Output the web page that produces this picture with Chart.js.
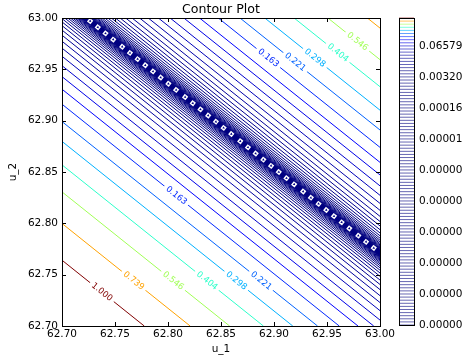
<!DOCTYPE html>
<html>
<head>
<meta charset="utf-8">
<script src="https://cdn.jsdelivr.net/npm/chart.js@4.4.1/dist/chart.umd.min.js"></script>
<style>
  html, body { margin: 0; padding: 0; background: #fff; }
  #wrap { position: relative; width: 468px; height: 360px; }
  #plot { position: absolute; left: 0; top: 0; }
  #cbar { position: absolute; left: 380px; top: 0; }
</style>
</head>
<body>
<div id="wrap">
  <canvas id="plot" width="468" height="360"></canvas>
  <canvas id="cbar" width="88" height="360"></canvas>
</div>
<script>
// contour levels, lowest first (100 of them, one per line on the colour bar)
const levels = [
  1.00e-13, 1.35e-13, 1.83e-13, 2.48e-13, 3.35e-13, 4.53e-13, 6.14e-13, 8.30e-13, 1.12e-12, 1.52e-12,
  2.06e-12, 2.78e-12, 3.76e-12, 5.09e-12, 6.89e-12, 9.33e-12, 1.26e-11, 1.71e-11, 2.31e-11, 3.13e-11,
  4.23e-11, 5.72e-11, 7.74e-11, 1.05e-10, 1.42e-10, 1.92e-10, 2.60e-10, 3.51e-10, 4.75e-10, 6.43e-10,
  8.70e-10, 1.18e-9, 1.59e-9, 2.15e-9, 2.92e-9, 3.94e-9, 5.34e-9, 7.22e-9, 9.77e-9, 1.32e-8,
  1.79e-8, 2.42e-8, 3.27e-8, 4.43e-8, 5.99e-8, 8.11e-8, 1.10e-7, 1.48e-7, 2.01e-7, 2.72e-7,
  3.68e-7, 4.98e-7, 6.73e-7, 9.11e-7, 1.23e-6, 1.67e-6, 2.26e-6, 3.05e-6, 4.13e-6, 5.59e-6,
  7.56e-6, 1.02e-5, 1.39e-5, 1.87e-5, 2.54e-5, 3.43e-5, 4.64e-5, 6.28e-5, 8.50e-5, 1.15e-4,
  1.56e-4, 2.10e-4, 2.85e-4, 3.85e-4, 5.21e-4, 7.06e-4, 9.55e-4, 1.29e-3, 1.75e-3, 2.36e-3,
  3.20e-3, 4.33e-3, 5.86e-3, 7.93e-3, 0.0107, 0.0145, 0.0196, 0.0266, 0.0359, 0.0486,
  0.06579, 0.0890, 0.120, 0.163, 0.221, 0.298, 0.404, 0.546, 0.739, 1.000
];

// the surface is a trough: zero along a straight valley, rising with the square of the offset
const valleyTop = 62.7229;    // u_1 of the valley floor at u_2 = 63.00
const valleyBottom = 63.0861; // u_1 of the valley floor at u_2 = 62.70
const spread = 0.3085;        // u_1 offset where the level reaches 1

const xTicks = [62.70, 62.75, 62.80, 62.85, 62.90, 62.95, 63.00];
const xTickLabels = ['62.70', '62.75', '62.80', '62.85', '62.90', '62.95', '63.00'];
const yTicks = [62.70, 62.75, 62.80, 62.85, 62.90, 62.95, 63.00];
const yTickLabels = ['62.70', '62.75', '62.80', '62.85', '62.90', '62.95', '63.00'];
const cbarTicks = [0, 10, 20, 30, 40, 50, 60, 70, 80, 90];
const cbarTickLabels = ['0.00000', '0.00000', '0.00000', '0.00000', '0.00000', '0.00000',
  '0.00001', '0.00016', '0.00320', '0.06579'];

// inline labels: level index, side of the valley (-1 lower left, 1 upper right), u_2 of the label
const labelLevels = [99, 98, 97, 96, 95, 94, 93, 93, 94, 95, 96, 97];
const labelSides = [-1, -1, -1, -1, -1, -1, -1, 1, 1, 1, 1, 1];
const labelU2 = [62.733, 62.744, 62.744, 62.744, 62.744, 62.744, 62.827, 62.961, 62.957, 62.961, 62.966, 62.977];

// where the crowded labels of the tiny levels cut the valley floor
const bandLabelU2 = [62.997, 62.991, 62.985, 62.979, 62.972, 62.966, 62.960, 62.954, 62.948, 62.942,
  62.936, 62.930, 62.923, 62.917, 62.911, 62.905, 62.899, 62.893, 62.887, 62.880, 62.874, 62.868,
  62.862, 62.856, 62.850, 62.844, 62.838, 62.831, 62.825, 62.819, 62.813, 62.807, 62.801, 62.795,
  62.788, 62.782, 62.776];

const font = 'DejaVu Sans';
const navy = 'rgb(0,0,128)';

// matplotlib "jet"
const jetR = [[0, 0], [0.35, 0], [0.66, 1], [0.89, 1], [1, 0.5]];
const jetG = [[0, 0], [0.125, 0], [0.375, 1], [0.64, 1], [0.91, 0], [1, 0]];
const jetB = [[0, 0.5], [0.11, 1], [0.34, 1], [0.65, 0], [1, 0]];
function seg(s, t) {
  for (let i = 1; i < s.length; i++) {
    if (t <= s[i][0]) {
      const f = (t - s[i - 1][0]) / (s[i][0] - s[i - 1][0]);
      return s[i - 1][1] + f * (s[i][1] - s[i - 1][1]);
    }
  }
  return s[s.length - 1][1];
}
function jet(t, a) {
  const r = Math.round(255 * seg(jetR, t)), g = Math.round(255 * seg(jetG, t)), b = Math.round(255 * seg(jetB, t));
  return a === undefined ? `rgb(${r},${g},${b})` : `rgba(${r},${g},${b},${a})`;
}
const vmin = levels[0], vmax = levels[levels.length - 1];
const lineColors = levels.map(v => jet((v - vmin) / (vmax - vmin)));
const cbarColors = levels.map(v => jet((v - vmin) / (vmax - vmin), 0.6));

function valleyAt(u2) {
  return valleyBottom + (valleyTop - valleyBottom) * (u2 - 62.70) / 0.30;
}
function contourU1(k, side, u2) {
  return valleyAt(u2) + side * spread * Math.sqrt(levels[k]);
}

const datasets = [];
datasets.push({
  data: bandLabelU2.map(u2 => ({ x: valleyAt(u2), y: u2 })),
  pointStyle: 'triangle', pointRadius: 1.5, rotation: 130,
  pointBackgroundColor: navy, pointBorderWidth: 0
});
datasets.push({
  data: bandLabelU2.map(u2 => ({ x: valleyAt(u2), y: u2 })),
  pointStyle: 'rect', pointRadius: 3.2, rotation: 38.7,
  pointBackgroundColor: '#fff', pointBorderWidth: 0
});
levels.forEach((v, k) => {
  [-1, 1].forEach(side => {
    datasets.push({
      data: [
        { x: contourU1(k, side, 63.00), y: 63.00 },
        { x: contourU1(k, side, 62.70), y: 62.70 }
      ],
      showLine: true,
      borderColor: lineColors[k],
      borderWidth: 1,
      pointRadius: 0
    });
  });
});

const frameTicks = {
  id: 'frameTicks',
  afterDraw(chart) {
    const { ctx, chartArea: a, scales: { x, y } } = chart;
    ctx.save();
    ctx.strokeStyle = '#000';
    ctx.lineWidth = 1;
    ctx.beginPath();
    xTicks.forEach(v => {
      const px = Math.round(x.getPixelForValue(v)) + 0.5;
      ctx.moveTo(px, a.bottom); ctx.lineTo(px, a.bottom - 4);
      ctx.moveTo(px, a.top); ctx.lineTo(px, a.top + 4);
    });
    yTicks.forEach(v => {
      const py = Math.round(y.getPixelForValue(v)) + 0.5;
      ctx.moveTo(a.left, py); ctx.lineTo(a.left + 4, py);
      ctx.moveTo(a.right, py); ctx.lineTo(a.right - 4, py);
    });
    ctx.stroke();
    ctx.strokeRect(a.left + 0.5, a.top + 0.5, a.right - a.left, a.bottom - a.top);
    ctx.restore();
  }
};

const inlineLabels = {
  id: 'inlineLabels',
  afterDatasetsDraw(chart) {
    const { ctx, scales: { x, y } } = chart;
    labelLevels.forEach((k, i) => {
      const side = labelSides[i], u2 = labelU2[i];
      const px = x.getPixelForValue(contourU1(k, side, u2));
      const py = y.getPixelForValue(u2);
      const ang = Math.atan2(
        y.getPixelForValue(62.70) - y.getPixelForValue(63.00),
        x.getPixelForValue(contourU1(k, side, 62.70)) - x.getPixelForValue(contourU1(k, side, 63.00)));
      const text = levels[k].toFixed(3);
      ctx.save();
      ctx.font = `8.5px "${font}"`;
      ctx.textAlign = 'center';
      ctx.textBaseline = 'middle';
      const w = ctx.measureText(text).width + 6;
      ctx.translate(px, py);
      ctx.rotate(ang);
      ctx.fillStyle = '#fff';
      ctx.fillRect(-w / 2, -2.5, w, 5);
      ctx.fillStyle = lineColors[k];
      ctx.fillText(text, 0, 0);
      ctx.restore();
    });
  }
};

new Chart(document.getElementById('plot'), {
  type: 'scatter',
  data: { datasets },
  options: {
    responsive: false,
    animation: false,
    devicePixelRatio: 1,
    layout: { padding: { left: 0, right: 88, top: 0, bottom: 0 } },
    plugins: {
      legend: { display: false },
      tooltip: { enabled: false },
      title: {
        display: true, text: 'Contour Plot', fullSize: false, color: '#000',
        font: { family: font, size: 12.6, weight: 'normal', lineHeight: 1 },
        padding: { top: 3, bottom: 2.4 }
      }
    },
    scales: {
      x: {
        type: 'linear', min: 62.70, max: 63.00,
        grid: { display: false, drawTicks: false },
        border: { display: false },
        afterBuildTicks: s => { s.ticks = xTicks.map(v => ({ value: v })); },
        ticks: {
          callback: (v, i) => xTickLabels[i], color: '#000', autoSkip: false, maxRotation: 0,
          padding: 2, font: { family: font, size: 10.5 }
        },
        title: {
          display: true, text: 'u_1', color: '#000',
          font: { family: font, size: 10.5 }, padding: { top: 0, bottom: 4.5 }
        },
        afterFit: s => { s.height = 34; }
      },
      y: {
        type: 'linear', min: 62.70, max: 63.00,
        grid: { display: false, drawTicks: false },
        border: { display: false },
        afterBuildTicks: s => { s.ticks = yTicks.map(v => ({ value: v })); },
        ticks: {
          callback: (v, i) => yTickLabels[i], color: '#000', autoSkip: false,
          padding: 4, font: { family: font, size: 10.5 }
        },
        title: {
          display: true, text: 'u_2', color: '#000',
          font: { family: font, size: 10.5 }, padding: { top: 6.5, bottom: 0 }
        },
        afterFit: s => { s.width = 62; }
      }
    }
  },
  plugins: [inlineLabels, frameTicks]
});

const cbarFrame = {
  id: 'cbarFrame',
  afterDraw(chart) {
    const { ctx, chartArea: a } = chart;
    ctx.save();
    ctx.strokeStyle = '#000';
    ctx.lineWidth = 1;
    ctx.strokeRect(a.left + 0.5, a.top + 0.5, a.right - a.left, a.bottom - a.top);
    ctx.restore();
  }
};

new Chart(document.getElementById('cbar'), {
  type: 'scatter',
  data: {
    datasets: [{
      data: levels.map((v, k) => ({ x: 0.5, y: k })),
      pointStyle: 'line', pointRadius: 7.5, pointBorderWidth: 1,
      pointBorderColor: cbarColors, clip: false
    }]
  },
  options: {
    responsive: false,
    animation: false,
    devicePixelRatio: 1,
    layout: { padding: { left: 19, right: 0, top: 18, bottom: 35 } },
    plugins: { legend: { display: false }, tooltip: { enabled: false } },
    scales: {
      x: { type: 'linear', min: 0, max: 1, display: false },
      y: {
        type: 'linear', position: 'right', min: 0, max: 99,
        grid: { display: false, drawTicks: false },
        border: { display: false },
        afterBuildTicks: s => { s.ticks = cbarTicks.map(v => ({ value: v })); },
        ticks: {
          callback: (v, i) => cbarTickLabels[i], color: '#000', autoSkip: false,
          padding: 5, font: { family: font, size: 10.5 }
        },
        afterFit: s => { s.width = 54; }
      }
    }
  },
  plugins: [cbarFrame]
});
</script>
</body>
</html>
